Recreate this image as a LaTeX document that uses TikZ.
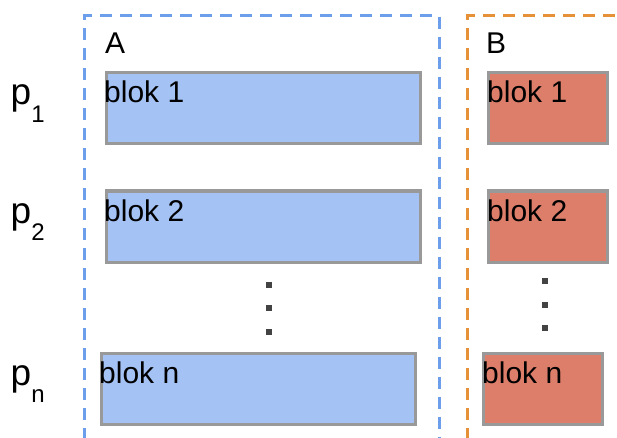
\documentclass[tikz,border=0pt]{standalone}
\usepackage{fontspec}
\setmainfont{Liberation Sans}
\definecolor{fillA}{HTML}{A4C2F4}
\definecolor{fillB}{HTML}{DD7E6B}
\definecolor{edgeGray}{HTML}{999999}
\definecolor{dashA}{HTML}{6D9EEB}
\definecolor{dashB}{HTML}{E69138}
\definecolor{dotGray}{HTML}{434343}
\tikzset{
  blokA/.style={draw=edgeGray, line width=3pt, fill=fillA, rectangle, inner sep=0pt, anchor=north west},
  blokB/.style={draw=edgeGray, line width=3pt, fill=fillB, rectangle, inner sep=0pt, anchor=north west},
  lbl/.style={inner sep=0pt, anchor=base west, font=\fontsize{30}{30}\selectfont},
  plbl/.style={inner sep=0pt, anchor=base west, font=\fontsize{37}{37}\selectfont},
  grp/.style={line width=3pt, dash pattern=on 12pt off 8pt},
  dotsq/.style={fill=dotGray, inner sep=0pt, minimum size=6pt, rectangle}
}
\begin{document}
\begin{tikzpicture}[x=1pt, y=-1pt]
\useasboundingbox (0,0) rectangle (617,438);
\clip (0,0) rectangle (617,438);
% group frames
\coordinate (gAbl) at (84,460);
\coordinate (gAtl) at (84,16);
\coordinate (gAtr) at (439,16);
\coordinate (gAbr) at (439,460);
\draw[grp, draw=dashA] (gAbl) -- (gAtl) -- (gAtr) -- (gAbr);
\coordinate (gBbl) at (467,460);
\coordinate (gBtl) at (467,16);
\coordinate (gBtr) at (640,16);
\draw[grp, draw=dashB] (gBbl) -- (gBtl) -- (gBtr);
\node[lbl] (labA) at (105,54) {A};
\node[lbl] (labB) at (486,54) {B};
% A blocks
\node[blokA, minimum width=314pt, minimum height=71pt] (a1) at (104.5,71.5) {};
\node[blokA, minimum width=314pt, minimum height=71pt] (a2) at (104.5,189.5) {};
\node[blokA, minimum width=314pt, minimum height=71pt] (an) at (99.5,351.5) {};
\node[lbl] (ta1) at (104,103) {blok 1};
\node[lbl] (ta2) at (104,221) {blok 2};
\node[lbl] (tan) at (99,383) {blok n};
% B blocks
\node[blokB, minimum width=119pt, minimum height=71pt] (b1) at (487,71.5) {};
\node[blokB, minimum width=119pt, minimum height=71pt] (b2) at (487,189.5) {};
\node[blokB, minimum width=119pt, minimum height=71pt] (bn) at (481.5,351.5) {};
\node[lbl] (tb1) at (487,103) {blok 1};
\node[lbl] (tb2) at (487,221) {blok 2};
\node[lbl] (tbn) at (482,383) {blok n};
% dots
\node[dotsq] (da1) at (269,284.5) {};
\node[dotsq] (da2) at (269,308) {};
\node[dotsq] (da3) at (269,331.5) {};
\node[dotsq] (db1) at (545,281) {};
\node[dotsq] (db2) at (545,304.5) {};
\node[dotsq] (db3) at (545,328) {};
% p labels
\node[plbl] (p1) at (10.5,105) {p\raisebox{-17.5pt}{\fontsize{24}{24}\selectfont 1}};
\node[plbl] (p2) at (10.5,223) {p\raisebox{-17.5pt}{\fontsize{24}{24}\selectfont 2}};
\node[plbl] (pn) at (10.5,385) {p\raisebox{-17.5pt}{\fontsize{24}{24}\selectfont n}};
\end{tikzpicture}
\end{document}
